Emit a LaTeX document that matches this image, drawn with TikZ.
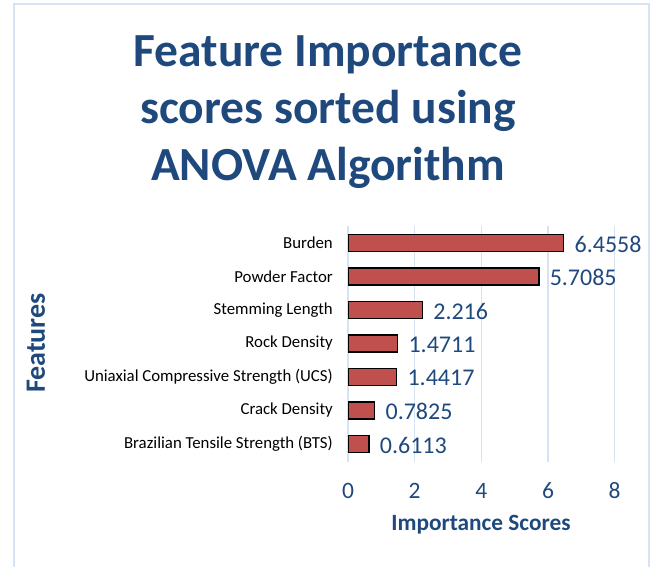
\documentclass[tikz,border=0pt]{standalone}
\usepackage{fontspec}
\setmainfont{Carlito}
\definecolor{titleblue}{RGB}{31,73,125}
\definecolor{framecol}{RGB}{214,227,243}
\definecolor{gridcol}{RGB}{214,227,243}
\definecolor{barred}{RGB}{192,80,77}
\tikzset{
  barbox/.style={fill=barred, draw=black, line width=1.3pt},
  catlabel/.style={anchor=east, font=\fontsize{16.8}{19}\selectfont, text=black, inner sep=0pt},
  vallabel/.style={anchor=west, font=\fontsize{24}{27}\selectfont, text=titleblue, inner sep=0pt},
  ticklabel/.style={font=\fontsize{23.5}{26}\selectfont, text=titleblue, inner sep=0pt},
  axistitle/.style={font=\bfseries\fontsize{23.3}{26}\selectfont, text=titleblue, inner sep=0pt},
  gridline/.style={draw=gridcol, line width=1.2pt}
}
\begin{document}
\begin{tikzpicture}[x=1pt,y=-1pt]
  \useasboundingbox (0,0) rectangle (656,566);
  % chart frame
  \draw[framecol, line width=2pt] (14,4) -- (649,4);
  \draw[framecol, line width=2pt] (14,3) -- (14,570);
  \draw[framecol, line width=2pt] (649,3) -- (649,570);
  % title
  \node[align=center, font=\bfseries\fontsize{47.5}{57}\selectfont, text=titleblue, inner sep=0pt]
    (title) at (328,112) {Feature Importance\\scores sorted using\\ANOVA Algorithm};
  % vertical grid lines and tick labels
  \foreach \v in {0,2,4,6,8} {
    \draw[gridline] ({348+33.33*\v},226) -- ({348+33.33*\v},462);
    \node[ticklabel] (tick\v) at ({348+33.33*\v},491) {\v};
  }
  % bars
  \foreach \i/\name/\val in {0/Burden/6.4558, 1/Powder Factor/5.7085, 2/Stemming Length/2.216,
      3/Rock Density/1.4711, 4/Uniaxial Compressive Strength (UCS)/1.4417,
      5/Crack Density/0.7825, 6/Brazilian Tensile Strength (BTS)/0.6113} {
    \pgfmathsetmacro{\yc}{243+33.5*\i}
    \node[barbox, minimum width={33.33*\val*1pt}, minimum height=17pt, inner sep=0pt, anchor=west]
      (bar\i) at (348,\yc) {};
    \node[catlabel] (cat\i) at (333,\yc) {\name};
    \node[vallabel] (val\i) at ([xshift=10pt,yshift=-1pt]bar\i.east) {\val};
  }
  % axis titles
  \node[axistitle] (xtitle) at (481,525) {Importance Scores};
  \node[axistitle, font=\bfseries\fontsize{28}{30}\selectfont, rotate=90] (ytitle) at (36,343) {Features};
\end{tikzpicture}
\end{document}
